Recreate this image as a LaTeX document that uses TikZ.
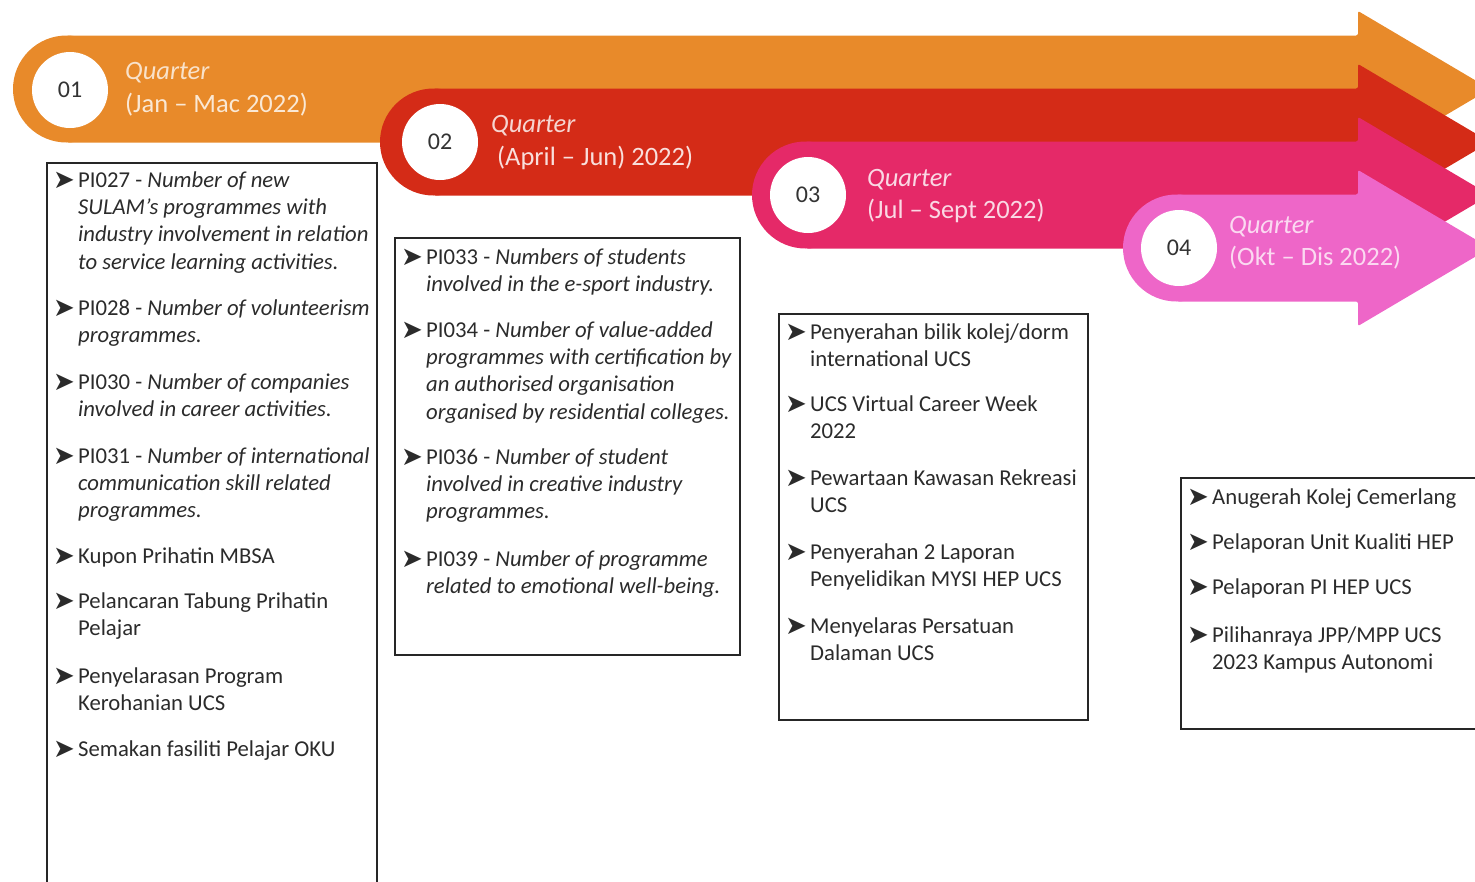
\documentclass[tikz,border=0pt]{standalone}
\usepackage{fontspec}
\setmainfont{Carlito}
\newfontfamily\dejavu{DejaVu Sans}
\definecolor{qorange}{HTML}{E88A2A}
\definecolor{qred}{HTML}{D42B17}
\definecolor{qrose}{HTML}{E52968}
\definecolor{qpink}{HTML}{EE66C8}
\definecolor{txt}{HTML}{2B2B2B}
\tikzset{
 itm/.style={anchor=north west, align=left, inner sep=0pt, font=\fontsize{22.7}{27.3}\selectfont, text=txt},
 bul/.style={anchor=center, inner sep=0pt, font=\dejavu\fontsize{26}{26}\selectfont, text=txt},
 qbox/.style={draw=black!85, line width=1.4pt},
 num/.style={circle, fill=white, minimum size=76pt, inner sep=0pt, font=\fontsize{24}{24}\selectfont, text=black!80},
 qlab/.style={anchor=base west, inner sep=0pt, font=\fontsize{26.5}{30}\selectfont},
}
\newcommand{\qitem}[4]{\node[bul] (#1b) at (#2+17,#3-7) {➤}; \node[itm] (#1) at (#2+31,#3-18) {\rule{0pt}{18pt}#4};}
\newcommand{\qarrow}[3]{%
 \fill[#1, rounded corners=2pt] (#2,#3-53.5) -- (1358,#3-53.5) -- (1358,#3-78) -- (1490,#3) -- (1358,#3+78) -- (1358,#3+53.5) -- (#2,#3+53.5) -- cycle;
 \fill[#1] (#2,#3) circle[radius=53.5pt];}
\begin{document}
\begin{tikzpicture}[x=1pt,y=-1pt]
\useasboundingbox (0,0) rectangle (1475,881);
\clip (0,0) rectangle (1475,881);
% arrows
\qarrow{qorange}{66.5}{89}
\qarrow{qred}{433.5}{142}
\qarrow{qrose}{805.5}{195}
\qarrow{qpink}{1176.5}{248}
% circles
\node[num] (c1) at (70,90) {01};
\node[num] (c2) at (440,142) {02};
\node[num] (c3) at (808,195) {03};
\node[num] (c4) at (1179,248) {04};
% labels
\node[qlab, text=white!75!qorange] (q1a) at (125,79) {\textit{Quarter}};
\node[qlab, text=white!80!qorange] (q1b) at (125,112) {(Jan – Mac 2022)};
\node[qlab, text=white!80!qred] (q2a) at (491,132) {\textit{Quarter}};
\node[qlab, text=white!85!qred] (q2b) at (497,165) {(April – Jun) 2022)};
\node[qlab, text=white!82!qrose] (q3a) at (867,186) {\textit{Quarter}};
\node[qlab, text=white!82!qrose] (q3b) at (867,218) {(Jul – Sept 2022)};
\node[qlab, text=white!75!qpink] (q4a) at (1229,233) {\textit{Quarter}};
\node[qlab, text=white!75!qpink] (q4b) at (1229,265) {(Okt – Dis 2022)};
% boxes
\draw[qbox] (47,163) rectangle (377,900);
\draw[qbox] (395,238) rectangle (740,655);
\draw[qbox] (779,314) rectangle (1088,720);
\draw[qbox] (1181,478) rectangle (1495,729);
% box 1
\qitem{a1}{47}{187}{PI027 - \textit{Number of new}\\\textit{SULAM's programmes with}\\\textit{industry involvement in relation}\\\textit{to service learning activities.}}
\qitem{a2}{47}{315}{PI028 - \textit{Number of volunteerism}\\\textit{programmes.}}
\qitem{a3}{47}{389}{PI030 - \textit{Number of companies}\\\textit{involved in career activities.}}
\qitem{a4}{47}{463}{PI031 - \textit{Number of international}\\\textit{communication skill related}\\\textit{programmes.}}
\qitem{a5}{47}{563}{Kupon Prihatin MBSA}
\qitem{a6}{47}{608}{Pelancaran Tabung Prihatin\\Pelajar}
\qitem{a7}{47}{683}{Penyelarasan Program\\Kerohanian UCS}
\qitem{a8}{47}{756}{Semakan fasiliti Pelajar OKU}
% box 2
\qitem{b1}{395}{264}{PI033 - \textit{Numbers of students}\\\textit{involved in the e-sport industry.}}
\qitem{b2}{395}{337}{PI034 - \textit{Number of value-added}\\\textit{programmes with certification by}\\\textit{an authorised organisation}\\\textit{organised by residential colleges.}}
\qitem{b3}{395}{464}{PI036 - \textit{Number of student}\\\textit{involved in creative industry}\\\textit{programmes.}}
\qitem{b4}{395}{566}{PI039 - \textit{Number of programme}\\\textit{related to emotional well-being.}}
% box 3
\qitem{d1}{779}{339}{Penyerahan bilik kolej/dorm\\international UCS}
\qitem{d2}{779}{411}{UCS Virtual Career Week\\2022}
\qitem{d3}{779}{485}{Pewartaan Kawasan Rekreasi\\UCS}
\qitem{d4}{779}{559}{Penyerahan 2 Laporan\\Penyelidikan MYSI HEP UCS}
\qitem{d5}{779}{633}{Menyelaras Persatuan\\Dalaman UCS}
% box 4
\qitem{e1}{1181}{504}{Anugerah Kolej Cemerlang}
\qitem{e2}{1181}{549}{Pelaporan Unit Kualiti HEP}
\qitem{e3}{1181}{594}{Pelaporan PI HEP UCS}
\qitem{e4}{1181}{642}{Pilihanraya JPP/MPP UCS\\2023 Kampus Autonomi}
\end{tikzpicture}
\end{document}
